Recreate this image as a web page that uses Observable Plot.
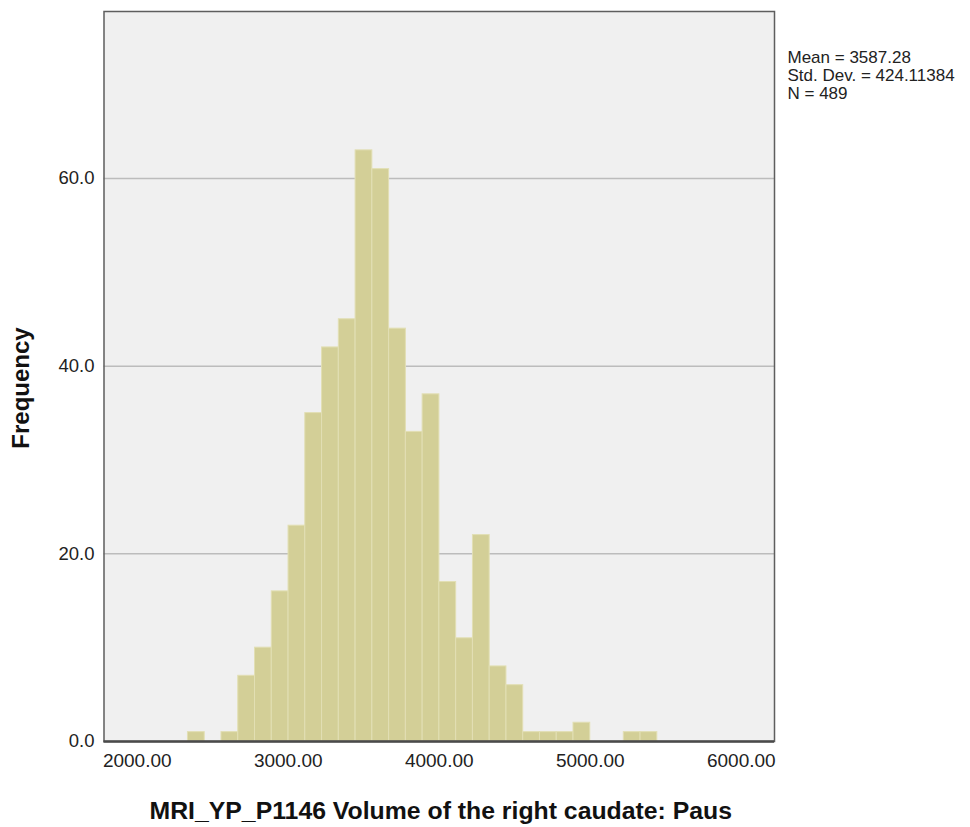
<!DOCTYPE html>
<html>
<head>
<meta charset="utf-8">
<script src="https://cdn.jsdelivr.net/npm/d3@7"></script>
<script src="https://cdn.jsdelivr.net/npm/@observablehq/plot@0.6"></script>
<style>
  html, body { margin: 0; padding: 0; background: #ffffff; }
  #chart { width: 970px; height: 827px; }
  svg { font-family: "Liberation Sans", Arial, sans-serif; }
</style>
</head>
<body>
<div id="chart"></div>
<script>
// Histogram bin edges and counts per bin
const binEdges = [2336, 2447, 2558, 2669, 2780, 2891, 3002, 3113, 3224, 3335,
                  3446, 3557, 3668, 3779, 3890, 4001, 4112, 4223, 4334, 4445,
                  4556, 4667, 4778, 4889, 5000, 5111, 5222, 5333, 5444];
const counts = [1, 0, 1, 7, 10, 16, 23, 35, 42, 45,
                63, 61, 44, 33, 37, 17, 11, 22, 8, 6,
                1, 1, 1, 2, 0, 0, 1, 1];
const xTicks = [2000, 3000, 4000, 5000, 6000];
const yTicks = [0, 20, 40, 60];
const gridValues = [20, 40, 60];
const statsLines = ["Mean = 3587.28", "Std. Dev. = 424.11384", "N = 489"];
const xTitle = "MRI_YP_P1146 Volume of the right caudate: Paus";
const yTitle = "Frequency";

const bins = counts.map((c, i) => ({x0: binEdges[i], x1: binEdges[i + 1], count: c}));

const chart = Plot.plot({
  width: 970,
  height: 827,
  marginLeft: 103.5,
  marginRight: 196,
  marginTop: 11,
  marginBottom: 86,
  style: {fontFamily: "Liberation Sans, Arial, sans-serif", background: "#ffffff", overflow: "visible"},
  x: {domain: [1780, 6220]},
  y: {domain: [0, 77.8]},
  marks: [
    Plot.frame({fill: "#f0f0f0", stroke: null}),
    Plot.ruleY(gridValues, {stroke: "#bcbcbc", strokeWidth: 1.5}),
    Plot.rectY(bins.filter(d => d.count > 0), {x1: "x0", x2: "x1", y1: 0, y2: "count", fill: "#d3cf97", stroke: "#e2dfb4", strokeWidth: 1}),
    Plot.frame({stroke: "#5e5e5e", strokeWidth: 1.5}),
    Plot.ruleY([0], {stroke: "#4a4a4a", strokeWidth: 2.5}),
    Plot.axisX({ticks: xTicks, tickFormat: d => d.toFixed(2), tickSize: 0, tickPadding: 12, fontSize: 19, fill: "#222", label: null}),
    Plot.axisY({ticks: yTicks, tickFormat: d => d.toFixed(1), tickSize: 0, tickPadding: 9.5, fontSize: 18.5, fill: "#222", label: null}),
    Plot.text([xTitle], {frameAnchor: "bottom", lineAnchor: "bottom", dy: 77, dx: 1.5, fontSize: 24.8, fontWeight: "bold", fill: "#111"}),
    Plot.text([yTitle], {frameAnchor: "left", rotate: -90, lineAnchor: "bottom", textAnchor: "middle", dx: -75.5, dy: 11.5, fontSize: 24, fontWeight: "bold", fill: "#111"}),
    Plot.text([statsLines.join("\n")], {frameAnchor: "top-right", textAnchor: "start", lineAnchor: "top", dx: 13, dy: 39, fontSize: 17, lineHeight: 1.06, fill: "#222"})
  ]
});
document.getElementById("chart").appendChild(chart);
</script>
</body>
</html>
